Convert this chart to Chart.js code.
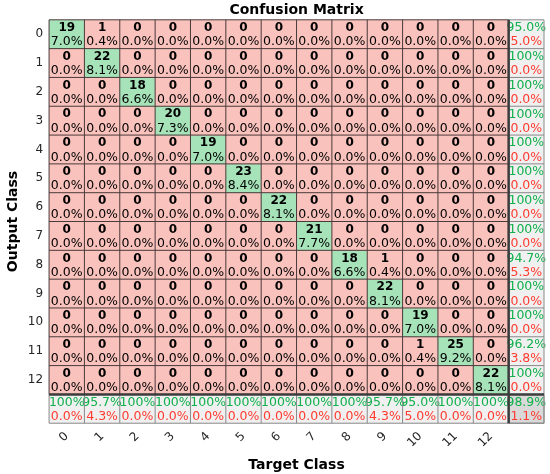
<!DOCTYPE html>
<html>
<head>
<meta charset="utf-8">
<script src="https://cdn.jsdelivr.net/npm/chart.js@4"></script>
<style>
  html, body { margin: 0; padding: 0; background: #fff; }
  #wrap { width: 550px; height: 474px; }
</style>
</head>
<body>
<div id="wrap"><canvas id="myChart" width="550" height="474"></canvas></div>
<script>
// class labels (target = columns, output = rows)
const classLabels = ["0", "1", "2", "3", "4", "5", "6", "7", "8", "9", "10", "11", "12"];

// correct predictions on the diagonal
const diagonalCounts = [19, 22, 18, 20, 19, 23, 22, 21, 18, 22, 19, 25, 22];

// off-diagonal errors: [outputRow, targetCol, count]
const misclassified = [
  [0, 1, 1],
  [8, 9, 1],
  [11, 10, 1],
];

const n = classLabels.length;
const counts = classLabels.map((_, r) => classLabels.map((_, c) => (r === c ? diagonalCounts[r] : 0)));
misclassified.forEach(([r, c, v]) => { counts[r][c] = v; });
const total = counts.flat().reduce((a, b) => a + b, 0);

const GREEN = "#a7e3b9";
const RED = "#f9c2bc";
const GRAY = "#f0f0f0";
const DARKGRAY = "#d9d9d9";
const FONT = "'DejaVu Sans', sans-serif";

function pct(v) {
  return v === 100 ? "100%" : v.toFixed(1) + "%";
}

function cellColor(r, c) {
  if (r === n && c === n) return DARKGRAY;
  if (r === n || c === n) return GRAY;
  return r === c ? GREEN : RED;
}

const datasets = [];
for (let r = 0; r <= n; r++) {
  datasets.push({
    label: r < n ? classLabels[r] : "summary",
    data: Array(n + 1).fill(1),
    backgroundColor: Array.from({ length: n + 1 }, (_, c) => cellColor(r, c)),
    borderWidth: 0,
    categoryPercentage: 1,
    barPercentage: 1,
  });
}

function cellText(r, c) {
  if (r < n && c < n) {
    return { top: String(counts[r][c]), bottom: (counts[r][c] / total * 100).toFixed(1) + "%", summary: false };
  }
  let good, all;
  if (r < n) {
    good = counts[r][r];
    all = counts[r].reduce((a, b) => a + b, 0);
  } else if (c < n) {
    good = counts[c][c];
    all = counts.reduce((a, row) => a + row[c], 0);
  } else {
    good = diagonalCounts.reduce((a, b) => a + b, 0);
    all = total;
  }
  const p = good / all * 100;
  return { top: pct(p), bottom: pct(100 - p), summary: true };
}

const matrixPlugin = {
  id: "matrixText",
  afterDatasetsDraw(chart) {
    const ctx = chart.ctx;
    const xs = chart.scales.x;
    const ys = chart.scales.y;
    ctx.save();
    ctx.textAlign = "center";
    ctx.textBaseline = "middle";
    for (let r = 0; r <= n; r++) {
      const meta = chart.getDatasetMeta(r);
      meta.data.forEach((el, c) => {
        const top = Math.min(el.y, el.base);
        const h = Math.abs(el.base - el.y);
        const t = cellText(r, c);
        if (t.summary) {
          ctx.font = "12.5px " + FONT;
          ctx.fillStyle = "#10b04c";
          ctx.fillText(t.top, el.x, top + h * 0.28);
          ctx.fillStyle = "#ff3b30";
          ctx.fillText(t.bottom, el.x, top + h * 0.77);
        } else {
          ctx.fillStyle = "#000";
          ctx.font = "bold 12px " + FONT;
          ctx.fillText(t.top, el.x, top + h * 0.28);
          ctx.font = "12.5px " + FONT;
          ctx.fillText(t.bottom, el.x, top + h * 0.77);
        }
      });
    }

    // grid lines
    const step = xs.getPixelForValue(1) - xs.getPixelForValue(0);
    const xAt = (i) => xs.getPixelForValue(0) - step / 2 + i * step;
    const yAt = (i) => ys.getPixelForValue(i);
    const left = xAt(0), right = xAt(n + 1), top = yAt(0), bottom = yAt(n + 1);
    const line = (x1, y1, x2, y2, color, w) => {
      ctx.strokeStyle = color;
      ctx.lineWidth = w;
      ctx.beginPath();
      ctx.moveTo(x1, y1);
      ctx.lineTo(x2, y2);
      ctx.stroke();
    };
    for (let i = 0; i <= n; i++) {
      line(xAt(i), top, xAt(i), yAt(n), "#4a3a3a", 1);
      line(left, yAt(i), xAt(n), yAt(i), "#4a3a3a", 1);
    }
    for (let i = 0; i <= n + 1; i++) {
      line(xAt(n), yAt(i), right, yAt(i), "#8a8a8a", 1);
      line(xAt(i), yAt(n), xAt(i), bottom, "#8a8a8a", 1);
    }
    line(right, top, right, bottom, "#8a8a8a", 1);
    line(left, bottom, right, bottom, "#8a8a8a", 1);
    line(xAt(n), top, xAt(n), bottom, "#3c3c3c", 2.5);
    line(left, yAt(n), right, yAt(n), "#3c3c3c", 2.5);
    ctx.restore();
  },
};

new Chart(document.getElementById("myChart").getContext("2d"), {
  type: "bar",
  data: {
    labels: classLabels.concat([""]),
    datasets: datasets,
  },
  options: {
    responsive: false,
    animation: false,
    events: [],
    layout: { padding: { left: 5, right: 6, top: 0, bottom: 0 } },
    plugins: {
      legend: { display: false },
      tooltip: { enabled: false },
      title: {
        display: true,
        fullSize: false,
        text: "Confusion Matrix",
        color: "#000",
        font: { family: FONT, size: 14, weight: "bold" },
        padding: { top: 2, bottom: 1 },
      },
    },
    scales: {
      x: {
        stacked: true,
        grid: { display: false, drawTicks: false },
        border: { display: false },
        ticks: {
          color: "#262626",
          font: { family: FONT, size: 12 },
          minRotation: 45,
          maxRotation: 45,
          padding: 6,
        },
        title: {
          display: true,
          text: "Target Class",
          color: "#000",
          font: { family: FONT, size: 14, weight: "bold" },
          padding: { top: 1, bottom: 0 },
        },
      },
      y: {
        stacked: true,
        reverse: true,
        min: 0,
        max: n + 1,
        grid: { display: false, drawTicks: false },
        border: { display: false },
        afterBuildTicks(scale) {
          scale.ticks = classLabels.map((_, i) => ({ value: i + 0.5 }));
        },
        ticks: {
          color: "#262626",
          font: { family: FONT, size: 12 },
          padding: 6,
          callback: (v) => classLabels[Math.floor(v)],
        },
        title: {
          display: true,
          text: "Output Class",
          color: "#000",
          font: { family: FONT, size: 14, weight: "bold" },
          padding: { top: 0, bottom: 0 },
        },
      },
    },
  },
  plugins: [matrixPlugin],
});
</script>
</body>
</html>
